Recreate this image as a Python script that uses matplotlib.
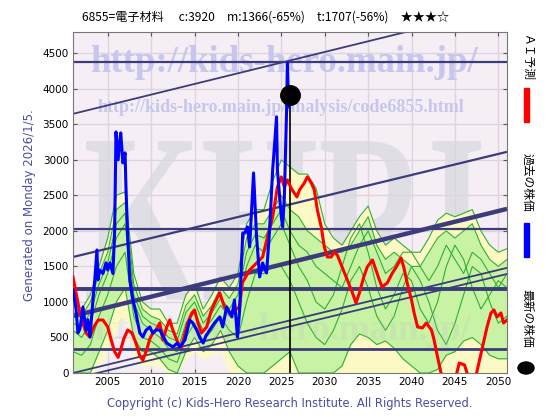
import matplotlib
matplotlib.use("Agg")
import matplotlib.pyplot as plt
from matplotlib.textpath import TextPath
from matplotlib.font_manager import FontProperties
from matplotlib.patches import PathPatch, Circle
from matplotlib.transforms import Affine2D

plt.rcParams['font.family'] = ['DejaVu Sans']
JP = ['Noto Sans CJK JP', 'DejaVu Sans']

# ---- data ----
title_text = "6855=電子材料　 c:3920　m:1366(-65%)　t:1707(-56%)　★★★☆"
latest_year = 2026.0
latest_price = 3920

past_years = [2001.0, 2001.35, 2001.57, 2001.8, 2002.15, 2002.5, 2002.7, 2002.95, 2003.3, 2003.5,
              2003.76, 2003.87, 2004.1, 2004.45, 2004.8, 2005.0, 2005.25, 2005.6, 2005.8, 2005.95,
              2006.2, 2006.4, 2006.5, 2006.75, 2007.0, 2007.1, 2007.3, 2007.55, 2007.9, 2008.25,
              2008.7, 2009.05, 2009.4, 2009.85, 2010.2, 2010.55, 2011.0, 2011.8, 2012.5, 2013.0,
              2013.3, 2013.9, 2014.45, 2014.8, 2015.25, 2015.6, 2016.0, 2016.3, 2016.75, 2017.3,
              2017.9, 2018.25, 2018.7, 2019.3, 2019.6, 2019.95, 2020.2, 2020.55, 2020.8, 2021.1,
              2021.35, 2021.8, 2022.15, 2022.5, 2022.85, 2023.3, 2023.65, 2024.0, 2024.2, 2024.45,
              2024.55, 2025.0, 2025.15, 2025.35, 2025.6, 2025.7, 2025.85, 2026.0]
past_price = [1170, 900, 563, 620, 930, 600, 750, 507, 1028, 1300,
              1732, 1310, 1450, 1400, 1550, 1450, 1549, 1400, 2000, 3393,
              3000, 3281, 3380, 2957, 3098, 2619, 1915, 1310, 1028, 845,
              563, 507, 600, 648, 560, 605, 605, 422, 366, 420,
              366, 465, 746, 704, 605, 500, 422, 520, 605, 704,
              789, 648, 930, 789, 1028, 507, 887, 1971, 1971, 2056,
              1774, 2816, 1915, 1352, 1549, 1408, 2014, 2858, 3182, 3605,
              2858, 2196, 2056, 2478, 3661, 4366, 3745, 3920]

ai_years = [2001.0, 2001.35, 2001.8, 2002.15, 2002.5, 2002.95, 2003.4, 2003.9, 2004.45, 2005.0,
            2005.4, 2005.8, 2006.2, 2006.5, 2006.85, 2007.3, 2007.8, 2008.25, 2008.7, 2009.05,
            2009.5, 2009.85, 2010.2, 2010.55, 2011.0, 2011.35, 2011.8, 2012.15, 2012.5, 2013.1,
            2013.5, 2013.9, 2014.2, 2014.7, 2015.0, 2015.4, 2015.8, 2016.4, 2016.95, 2017.5,
            2017.9, 2018.45, 2019.05, 2019.6, 2020.2, 2020.5, 2021.35, 2022.15, 2022.85, 2023.4,
            2024.0, 2024.55, 2025.0, 2025.35, 2025.7, 2026.25, 2026.8, 2027.1, 2027.65, 2028.0,
            2028.45, 2028.8, 2029.15, 2029.6, 2029.95, 2030.3, 2030.75, 2031.1, 2031.45, 2032.0,
            2032.6, 2033.2, 2033.6, 2034.0, 2034.5, 2034.9, 2035.5, 2035.9, 2036.3, 2036.6,
            2037.2, 2037.8, 2038.25, 2038.8, 2039.1, 2039.5, 2040.0, 2040.3, 2040.7, 2041.25,
            2041.7, 2042.3, 2042.6, 2043.0, 2043.4, 2044.0, 2044.9, 2045.5, 2046.1, 2046.4,
            2046.95, 2047.5, 2048.1, 2048.7, 2049.15, 2049.5, 2049.85, 2050.3, 2050.6, 2051.0]
ai_price = [1352, 1127, 845, 704, 563, 507, 648, 746, 746, 648,
            465, 300, 220, 330, 480, 605, 563, 422, 240, 180,
            330, 480, 563, 605, 704, 465, 648, 746, 605, 422,
            366, 563, 704, 845, 887, 704, 563, 648, 887, 1028,
            1127, 930, 845, 887, 930, 1267, 1450, 1549, 1633, 1915,
            2196, 2619, 2760, 2619, 2717, 2577, 2478, 2577, 2675, 2760,
            2675, 2577, 2295, 2056, 1774, 1633, 1633, 1704, 1661, 1493,
            1310, 1127, 986, 1127, 1352, 1493, 1591, 1450, 1310, 1211,
            1267, 1408, 1493, 1619, 1493, 1267, 1028, 845, 648, 634,
            704, 605, 465, 225, 0, -300, -150, 141, 113, 0,
            -150, 0, 324, 648, 845, 887, 789, 845, 704, 746]

band_years = list(range(2001, 2052))
yellow_hi = [1000, 900, 1100, 1500, 1900, 2500, 2550, 1400, 1000, 900,
             900, 700, 700, 1100, 1250, 900, 1100, 1350, 1200, 1400,
             2100, 2300, 2300, 2700, 3000, 2900, 2800, 2800, 2600, 2100,
             1900, 1800, 2000, 2200, 2350, 2000, 1800, 1900, 1800, 1700,
             1700, 1900, 2150, 2250, 2200, 2250, 2300, 2000, 1800, 1700, 1750]
yellow_lo = [0, 0, 0, 100, 300, 600, 800, 200, 100, 100,
             100, 0, 0, 200, 300, 200, 250, 300, 0, 0,
             0, 0, 0, 0, 0, 0, 0, 0, 0, 0,
             0, 0, 0, 0, 0, 0, 0, 0, 0, 0,
             0, 0, 0, 0, 0, 0, 0, 0, 0, 0, 0]
green_hi = [850, 800, 1000, 1400, 1700, 2300, 2400, 1250, 900, 800,
            750, 600, 550, 950, 1100, 800, 950, 1200, 1050, 1250,
            1900, 2100, 2100, 2300, 2500, 2300, 2200, 2000, 1900, 1800,
            1700, 1700, 1800, 2000, 2200, 1800, 1600, 1700, 1600, 1500,
            1500, 1700, 1900, 2000, 1900, 2000, 2100, 1800, 1600, 1500, 1600]
green_lo = [0, 0, 0, 300, 600, 1000, 1200, 500, 300, 300,
            200, 50, 0, 300, 500, 300, 400, 600, 300, 100,
            0, 0, 0, 100, 200, 300, 0, 0, 0, 0,
            0, 100, 400, 550, 500, 400, 450, 350, 200, 100,
            0, 0, 50, 250, 300, 450, 500, 400, 250, 200, 200]
green_mid1 = [600, 500, 700, 1100, 1400, 1900, 2100, 1000, 700, 600,
              500, 350, 300, 700, 850, 600, 750, 950, 800, 900,
              1500, 1800, 1700, 1900, 2100, 1800, 1500, 1300, 1000, 900,
              1100, 1500, 1900, 2100, 1700, 1200, 900, 1100, 1400, 1300,
              900, 700, 1000, 1500, 1800, 1600, 1200, 900, 1100, 1300, 1200]
green_mid2 = [300, 250, 400, 800, 1100, 1500, 1700, 800, 500, 450,
              350, 200, 150, 500, 700, 450, 600, 800, 600, 500,
              1000, 1400, 1400, 1500, 1500, 1300, 1000, 700, 500, 400,
              600, 900, 1300, 1500, 1200, 800, 600, 800, 1200, 1500,
              1300, 1000, 600, 400, 700, 1100, 1500, 1400, 1000, 700, 800]
green_mid3 = [700, 650, 850, 1250, 1550, 2100, 2250, 1100, 800, 700,
              650, 500, 450, 850, 1000, 700, 850, 1050, 900, 1100,
              1700, 1950, 1900, 2100, 2300, 2000, 1800, 1700, 1500, 1400,
              1300, 1200, 1500, 1800, 2000, 1700, 1400, 1500, 1700, 1700,
              1500, 1300, 1500, 1800, 1600, 1400, 1700, 1600, 1400, 1200, 1400]

hlines = [4380, 2030, 1183, 338]
hline_widths = [1.6, 1.6, 2.8, 2.0]
trend_at_2001 = [3648, 1633, 803, 0, -83]
trend_at_2051 = [5150, 3113, 2310, 1480, 1394]
trend_widths = [1.3, 1.6, 3.2, 1.3, 1.3]

NAVY = '#3c3c7c'

fig = plt.figure(figsize=(5.6, 4.2), dpi=100)
fig.patch.set_facecolor('white')
ax = fig.add_axes([73 / 560, 1 - 373 / 420, 434 / 560, 341 / 420])
ax.set_facecolor('#f5eff5')
ax.set_xlim(2001, 2051)
ax.set_ylim(0, 4800)
ax.set_xticks(range(2005, 2051, 5))
ax.set_yticks(range(0, 4501, 500))
ax.grid(True, color='#ddd4dd', lw=1.0, zorder=0)
ax.set_axisbelow(True)
ax.tick_params(direction='in', length=3, top=True, right=True, labelsize=7.5,
               color='#555555', pad=3)
for s in ax.spines.values():
    s.set_color('#777777')
    s.set_linewidth(0.8)

# big KHRI watermark stretched into its box
tp = TextPath((0, 0), "KHRI", size=1, prop=FontProperties(family='Liberation Serif', weight='bold'))
ext = tp.get_extents()
bx0, bx1, by0, by1 = 0.03, 0.94, 0.215, 0.68
tr = Affine2D().translate(-ext.x0, -ext.y0).scale((bx1 - bx0) / ext.width,
                                                   (by1 - by0) / ext.height).translate(bx0, by0)
ax.add_patch(PathPatch(tr.transform_path(tp), transform=ax.transAxes, fc='#e0dee5',
                       ec='none', zorder=0.5))

# forecast bands
ax.fill_between(band_years, yellow_lo, yellow_hi, color='#fdf9c4', lw=0, zorder=1)
ax.fill_between(band_years, green_lo, green_hi, color='#c8f2a4', lw=0, zorder=1.1)
for arr in (yellow_hi, green_hi, green_lo, green_mid1, green_mid2, green_mid3):
    ax.plot(band_years, arr, color='#30b030', lw=0.8, zorder=1.5)

# url watermarks
ax.text(0.485, 0.912, "http://kids-hero.main.jp/", transform=ax.transAxes, ha='center',
        va='center', fontsize=26.5, family='Liberation Serif', weight='bold',
        color='#c6c6ee', zorder=1.8)
ax.text(0.48, 0.778, "http://kids-hero.main.jp/analysis/code6855.html", transform=ax.transAxes,
        ha='center', va='center', fontsize=13, family='Liberation Serif', weight='bold',
        color='#c6c6ee', zorder=1.8)
ax.text(0.47, 0.125, "http://kids-hero.main.jp/", transform=ax.transAxes, ha='center',
        va='center', fontsize=26.5, family='Liberation Serif', weight='bold',
        color='#b8b8e0', alpha=0.18, zorder=1.8)

# support / resistance lines
for v, w in zip(hlines, hline_widths):
    ax.axhline(v, color=NAVY, lw=w, zorder=2)
for a, b, w in zip(trend_at_2001, trend_at_2051, trend_widths):
    ax.plot([2001, 2051], [a, b], color=NAVY, lw=w, zorder=2, solid_capstyle='butt')

ax.vlines(latest_year, 0, latest_price, color='black', lw=1.2, zorder=2.5)
ax.plot(ai_years, ai_price, color='#ff0000', lw=2.2, zorder=3)
ax.plot(past_years, past_price, color='black', lw=0.8, zorder=3.1)
ax.plot(past_years, past_price, color='#0000ff', lw=2.2, zorder=3.2)
ax.plot([latest_year], [latest_price], 'o', color='black', ms=14, zorder=4, clip_on=False)

fig.text(266 / 560, 1 - 17 / 420, title_text, ha='center', va='center', fontsize=8.7, family=JP)
fig.text(30 / 560, 1 - 205 / 420, "Generated on Monday 2026/1/5.", rotation=90, ha='center',
         va='center', fontsize=8.5, color='#4c4ca4')
fig.text(290 / 560, 1 - 404 / 420,
         "Copyright (c) Kids-Hero Research Institute. All Rights Reserved.",
         ha='center', va='center', fontsize=8.3, color='#4c4ca4')

# right-hand legend
fig.text(527 / 560, 1 - 58 / 420, "ＡＩ予測", rotation=270, ha='center', va='center',
         fontsize=8.5, family=JP)
fig.add_artist(plt.Rectangle((524 / 560, 1 - 122 / 420), 5 / 560, 34 / 420, color='#ff0000',
                             transform=fig.transFigure))
fig.text(527 / 560, 1 - 182 / 420, "過去の株価", rotation=270, ha='center', va='center',
         fontsize=8.5, family=JP)
fig.add_artist(plt.Rectangle((524 / 560, 1 - 257 / 420), 5 / 560, 34 / 420, color='#0000ff',
                             transform=fig.transFigure))
fig.text(527 / 560, 1 - 318 / 420, "最新の株価", rotation=270, ha='center', va='center',
         fontsize=8.5, family=JP)
fig.add_artist(Circle((526 / 560, 1 - 368 / 420), 8 / 560, color='black',
                      transform=fig.transFigure))

fig.savefig("out.png", dpi=100)
